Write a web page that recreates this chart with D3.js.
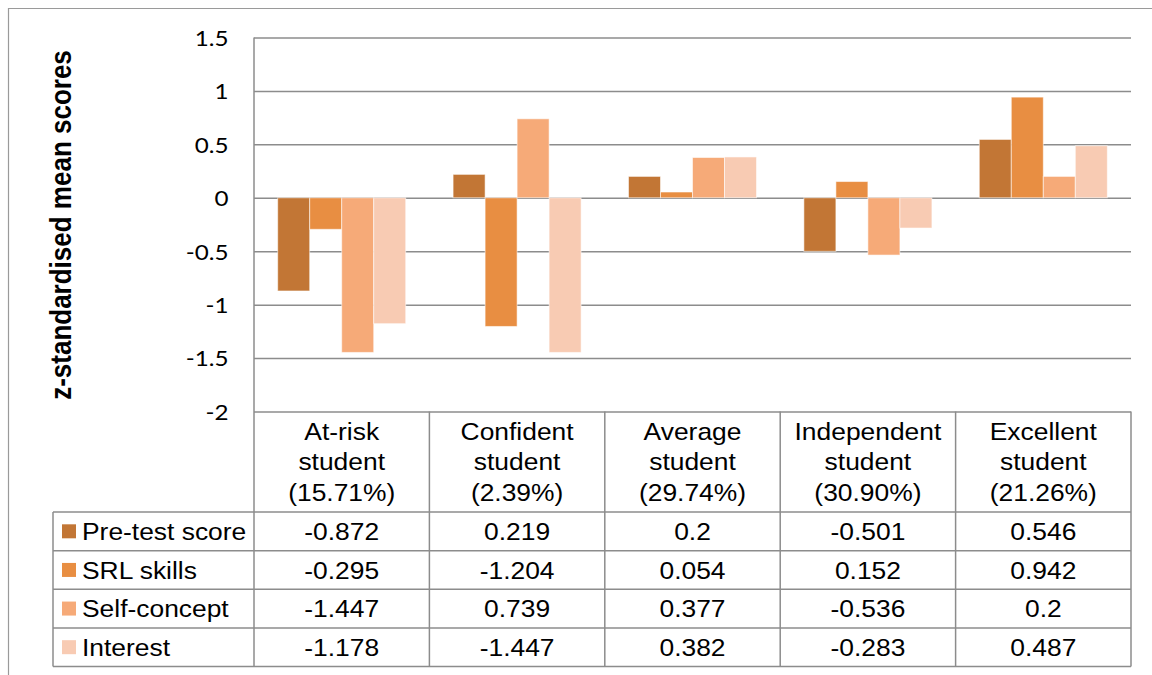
<!DOCTYPE html>
<html>
<head>
<meta charset="utf-8">
<script src="https://cdn.jsdelivr.net/npm/d3@7"></script>
<style>
  html, body { margin: 0; padding: 0; background: #fff; }
  svg { display: block; }
</style>
</head>
<body>
<svg id="chart" width="1152" height="675"></svg>
<script>
const categories = ["At-risk student", "Confident student", "Average student", "Independent student", "Excellent student"];
const shares = ["15.71%", "2.39%", "29.74%", "30.90%", "21.26%"];
const seriesNames = ["Pre-test score", "SRL skills", "Self-concept", "Interest"];
const preTest = [-0.872, 0.219, 0.2, -0.501, 0.546];
const srlSkills = [-0.295, -1.204, 0.054, 0.152, 0.942];
const selfConcept = [-1.447, 0.739, 0.377, -0.536, 0.2];
const interest = [-1.178, -1.447, 0.382, -0.283, 0.487];
const yTicks = [1.5, 1, 0.5, 0, -0.5, -1, -1.5, -2];
const yTitle = "z-standardised mean scores";
const colors = ["#c27635", "#e88e42", "#f6aa78", "#f8cbb3"];

const seriesValues = [preTest, srlSkills, selfConcept, interest];
const series = seriesNames.map((name, i) => ({ name, values: seriesValues[i], color: colors[i] }));

const svg = d3.select("#chart");
const gridColor = "#8c8c8c";
const textFont = "'Liberation Sans', Arial, sans-serif";
const sx = 1.1; // horizontal text stretch seen in the reference

const plotLeft = 254, plotRight = 1131, plotTop = 37.5, plotBottom = 411.5;
const headerBottom = 512, tableBottom = 666.5, legendLeft = 53;

const x0 = d3.scaleBand().domain(categories).range([plotLeft, plotRight]).paddingInner(0).paddingOuter(0);
const x1 = d3.scaleBand().domain(seriesNames).range([0, x0.bandwidth()]).paddingInner(0).paddingOuter(0.74);
const y = d3.scaleLinear().domain([-2, 1.5]).range([plotBottom, plotTop]);
const rowY = d3.scaleBand().domain(seriesNames).range([headerBottom, tableBottom]);

// outer frame (cropped at right/bottom)
svg.append("path")
  .attr("d", `M8.5,675 L8.5,8.5 L1152,8.5`)
  .attr("fill", "none").attr("stroke", "#9a9a9a").attr("stroke-width", 1.2);

// gridlines
const grid = svg.append("g").attr("transform", `translate(${plotLeft},0)`)
  .call(d3.axisRight(y).tickValues(yTicks).tickSize(plotRight - plotLeft).tickFormat(""));
grid.select(".domain").remove();
grid.selectAll(".tick line").attr("stroke", gridColor).attr("stroke-width", 1.5);

// bars
const groups = svg.append("g").selectAll("g")
  .data(categories).join("g")
  .attr("transform", d => `translate(${x0(d)},0)`);
groups.selectAll("rect")
  .data((d, ci) => series.map(s => ({ name: s.name, value: s.values[ci], color: s.color })))
  .join("rect")
  .attr("x", d => x1(d.name))
  .attr("width", x1.bandwidth())
  .attr("y", d => y(Math.max(0, d.value)))
  .attr("height", d => Math.abs(y(d.value) - y(0)))
  .attr("fill", d => d.color)
  .attr("stroke", "rgba(255,255,255,0.55)")
  .attr("stroke-width", 1);

// y tick labels
const yAxis = svg.append("g").attr("transform", `translate(${plotLeft},0)`)
  .call(d3.axisLeft(y).tickValues(yTicks).tickSize(0).tickPadding(0).tickFormat(d => String(d)));
yAxis.select(".domain").remove();
yAxis.selectAll(".tick text").remove();
yAxis.selectAll(".tick").append("g")
  .attr("transform", `translate(-25.5,0) scale(${sx},1)`)
  .append("text")
  .attr("text-anchor", "end").attr("dy", "0.36em")
  .attr("font-family", "Lato, 'Open Sans', sans-serif").attr("font-size", 22).attr("fill", "#000")
  .text(d => String(d));

// y title
svg.append("g")
  .attr("transform", `translate(71,225) scale(${sx},1) rotate(-90)`)
  .append("text")
  .attr("text-anchor", "middle")
  .attr("font-family", textFont).attr("font-weight", "bold").attr("font-size", 26)
  .attr("fill", "#000")
  .text(yTitle);

// table lines
const lines = svg.append("g").attr("stroke", gridColor).attr("stroke-width", 1.5).attr("fill", "none");
// header vertical separators
x0.domain().forEach((c, i) => {
  if (i > 0) lines.append("line").attr("x1", x0(c)).attr("x2", x0(c)).attr("y1", plotBottom).attr("y2", tableBottom);
});
lines.append("line").attr("x1", plotRight).attr("x2", plotRight).attr("y1", plotBottom).attr("y2", tableBottom);
lines.append("line").attr("x1", legendLeft).attr("x2", legendLeft).attr("y1", headerBottom).attr("y2", tableBottom);
// row lines
seriesNames.forEach(s => {
  lines.append("line").attr("x1", legendLeft).attr("x2", plotRight).attr("y1", rowY(s)).attr("y2", rowY(s));
});
lines.append("line").attr("x1", legendLeft).attr("x2", plotRight).attr("y1", tableBottom).attr("y2", tableBottom);
// y axis line (plot + table)
lines.append("line").attr("x1", plotLeft).attr("x2", plotLeft).attr("y1", plotTop).attr("y2", tableBottom);

function stretchedText(parent, x, yy, txt, anchor) {
  parent.append("g")
    .attr("transform", `translate(${x},${yy}) scale(${sx},1)`)
    .append("text")
    .attr("text-anchor", anchor).attr("dy", "0.36em")
    .attr("font-family", textFont).attr("font-size", 24).attr("fill", "#000")
    .text(txt);
}

// header labels
const headerMid = (plotBottom + headerBottom) / 2;
const txt = svg.append("g");
categories.forEach((c, i) => {
  const cx = x0(c) + x0.bandwidth() / 2;
  const k = c.lastIndexOf(" ");
  const parts = [c.slice(0, k), c.slice(k + 1), `(${shares[i]})`];
  parts.forEach((p, j) => stretchedText(txt, cx, headerMid + (j - 1) * 30.5, p, "middle"));
});

// rows: legend + values
series.forEach(s => {
  const cy = rowY(s.name) + rowY.bandwidth() / 2;
  svg.append("rect").attr("x", 62).attr("y", cy - 7).attr("width", 14).attr("height", 14).attr("fill", s.color);
  stretchedText(txt, 82, cy, s.name, "start");
  s.values.forEach((v, ci) => {
    stretchedText(txt, x0(categories[ci]) + x0.bandwidth() / 2, cy, String(v), "middle");
  });
});
</script>
</body>
</html>
